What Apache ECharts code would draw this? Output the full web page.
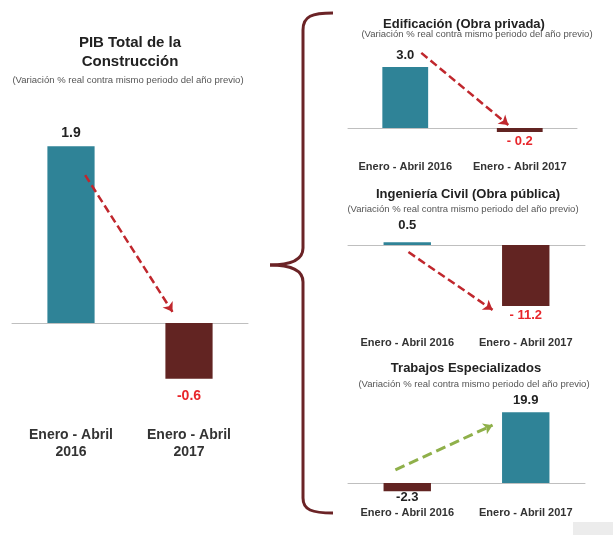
<!DOCTYPE html>
<html>
<head>
<meta charset="utf-8">
<script src="https://cdn.jsdelivr.net/npm/echarts@6/dist/echarts.min.js"></script>
<style>html,body{margin:0;padding:0;background:#fff}#main{width:613px;height:535px}</style>
</head>
<body>
<div id="main"></div>
<script>
var myChart = echarts.init(document.getElementById('main'));

// periodos
var periodosLargo = ['Enero - Abril\n2016', 'Enero - Abril\n2017'];
var periodos = ['Enero - Abril 2016', 'Enero - Abril 2017'];

// variacion % real contra mismo periodo del año previo
var pibTotal = [1.9, -0.6];
var edificacion = [3.0, -0.2];
var ingenieria = [0.5, -11.2];
var trabajos = [-2.3, 19.9];

// etiquetas como se ven en la lamina
var pibTotalTxt = ['1.9', '-0.6'];
var edificacionTxt = ['3.0', '- 0.2'];
var ingenieriaTxt = ['0.5', '- 11.2'];
var trabajosTxt = ['-2.3', '19.9'];

// flechas: [inicio, fin] en (indice de periodo, valor)
var flechaPib = [[0.12, 1.59], [0.86, 0.12]];
var flechaEdif = [[0.14, 3.7], [0.90, 0.15]];
var flechaIng = [[0.01, -1.3], [0.72, -11.9]];
var flechaTrab = [[-0.1, 3.7], [0.72, 16.3]];

var azul = '#2f8397', guinda = '#622422', rojo = '#e8262b', negro = '#222';

function barras(g, valores, textos, colores, fs, dist) {
    return {
        type: 'bar', xAxisIndex: g * 3, yAxisIndex: g, barWidth: '40%',
        data: valores.map(function (v, i) {
            return {
                value: v,
                itemStyle: {color: v >= 0 ? azul : guinda},
                label: {
                    show: true, position: v >= 0 ? 'top' : 'bottom', distance: dist[i],
                    formatter: textos[i], color: colores[i], fontSize: fs, fontWeight: 'bold',
                    fontFamily: 'Liberation Sans'
                }
            };
        })
    };
}

function flecha(g, coords, color, dash, ancho) {
    return {
        type: 'line', xAxisIndex: g * 3 + 2, yAxisIndex: g, silent: true, z: 5,
        data: coords, showSymbol: false, lineStyle: {opacity: 0},
        markLine: {
            silent: true, symbol: ['none', 'arrow'], symbolSize: 9, animation: false,
            label: {show: false},
            lineStyle: {color: color, width: ancho, type: dash, opacity: 1},
            emphasis: {disabled: true},
            data: [[{coord: coords[0]}, {coord: coords[1]}]]
        }
    };
}

// eje en cero (linea y marcas) + eje de etiquetas al pie de la rejilla + eje auxiliar para flechas
function ejeX(g, cats, fs, margin) {
    return [{
        type: 'category', gridIndex: g, data: cats,
        axisLine: {onZero: true, lineStyle: {color: '#bfbfbf'}},
        axisTick: {length: 5, lineStyle: {color: '#bfbfbf'}},
        axisLabel: {show: false}
    }, {
        type: 'category', gridIndex: g, data: cats, position: 'bottom',
        axisLine: {show: false, onZero: false}, axisTick: {show: false},
        axisLabel: {margin: margin, interval: 0, hideOverlap: false, color: '#333', fontSize: fs,
            fontWeight: 'bold', fontFamily: 'Liberation Sans', lineHeight: fs + 3}
    }, {
        type: 'value', gridIndex: g, min: -0.5, max: 1.5, show: false
    }];
}

function titulo(txt, x, y, fs, bold, color) {
    return {
        text: txt, left: x, top: y, textAlign: 'center', padding: 0,
        textStyle: {fontSize: fs, fontWeight: bold ? 'bold' : 'normal', color: color,
            fontFamily: 'Liberation Sans', lineHeight: fs + 4}
    };
}

// llave que agrupa los tres componentes
var llaveEstilo = {stroke: '#6b2326', lineWidth: 3, fill: 'none'};
function curva(x1, y1, c1x, c1y, c2x, c2y, x2, y2) {
    return {type: 'bezierCurve', shape: {x1: x1, y1: y1, cpx1: c1x, cpy1: c1y, cpx2: c2x, cpy2: c2y, x2: x2, y2: y2}, style: llaveEstilo};
}
function recta(x1, y1, x2, y2) {
    return {type: 'line', shape: {x1: x1, y1: y1, x2: x2, y2: y2}, style: llaveEstilo};
}

var subt = '(Variación % real contra mismo periodo del año previo)';

var option = {
    backgroundColor: '#fff',
    animation: false,
    title: [
        titulo('PIB Total de la\nConstrucción', 130, 33, 15, true, '#222'),
        titulo(subt, 128, 74, 9.5, false, '#555'),
        titulo('Edificación (Obra privada)', 464, 16, 13, true, '#222'),
        titulo(subt, 477, 28, 9.5, false, '#555'),
        titulo('Ingeniería Civil (Obra pública)', 468, 186, 13, true, '#222'),
        titulo(subt, 463, 203, 9.5, false, '#555'),
        titulo('Trabajos Especializados', 466, 360, 13, true, '#222'),
        titulo(subt, 474, 378, 9.5, false, '#555')
    ],
    grid: [
        {left: 12, right: 365, top: 137, height: 279, outerBoundsMode: 'none'},
        {left: 348, right: 36, top: 46.8, height: 101.5, outerBoundsMode: 'none'},
        {left: 348, right: 28, top: 234.1, height: 87.2, outerBoundsMode: 'none'},
        {left: 348, right: 28, top: 404.9, height: 92.3, outerBoundsMode: 'none'}
    ],
    xAxis: [].concat(
        ejeX(0, periodosLargo, 14, 10.5),
        ejeX(1, periodos, 11, 12),
        ejeX(2, periodos, 11, 15),
        ejeX(3, periodos, 11, 9)
    ),
    yAxis: [
        {type: 'value', gridIndex: 0, min: -1, max: 2, show: false},
        {type: 'value', gridIndex: 1, min: -1, max: 4, show: false},
        {type: 'value', gridIndex: 2, min: -14, max: 2, show: false},
        {type: 'value', gridIndex: 3, min: -4, max: 22, show: false}
    ],
    series: [
        barras(0, pibTotal, pibTotalTxt, [negro, rojo], 14, [6, 10]),
        barras(1, edificacion, edificacionTxt, [negro, rojo], 13, [5, 3]),
        barras(2, ingenieria, ingenieriaTxt, [negro, rojo], 13, [10, 3]),
        barras(3, trabajos, trabajosTxt, [negro, negro], 13, [0, 5]),
        flecha(0, flechaPib, '#c0272d', [8, 4], 2.5),
        flecha(1, flechaEdif, '#c0272d', [8, 4], 2.5),
        flecha(2, flechaIng, '#c0272d', [8, 4], 2.5),
        flecha(3, flechaTrab, '#8fb04a', [10, 5], 3)
    ],
    graphic: [
        curva(333, 13, 312, 13, 303, 16, 303, 30),
        recta(303, 30, 303, 248),
        curva(303, 248, 303, 260, 290, 265, 270, 265),
        curva(270, 265, 290, 265, 303, 270, 303, 282),
        recta(303, 282, 303, 498),
        curva(303, 498, 303, 510, 312, 513, 333, 513),
        {type: 'rect', shape: {x: 573, y: 522, width: 40, height: 13}, style: {fill: '#ececec'}}
    ]
};

myChart.setOption(option);
</script>
</body>
</html>
